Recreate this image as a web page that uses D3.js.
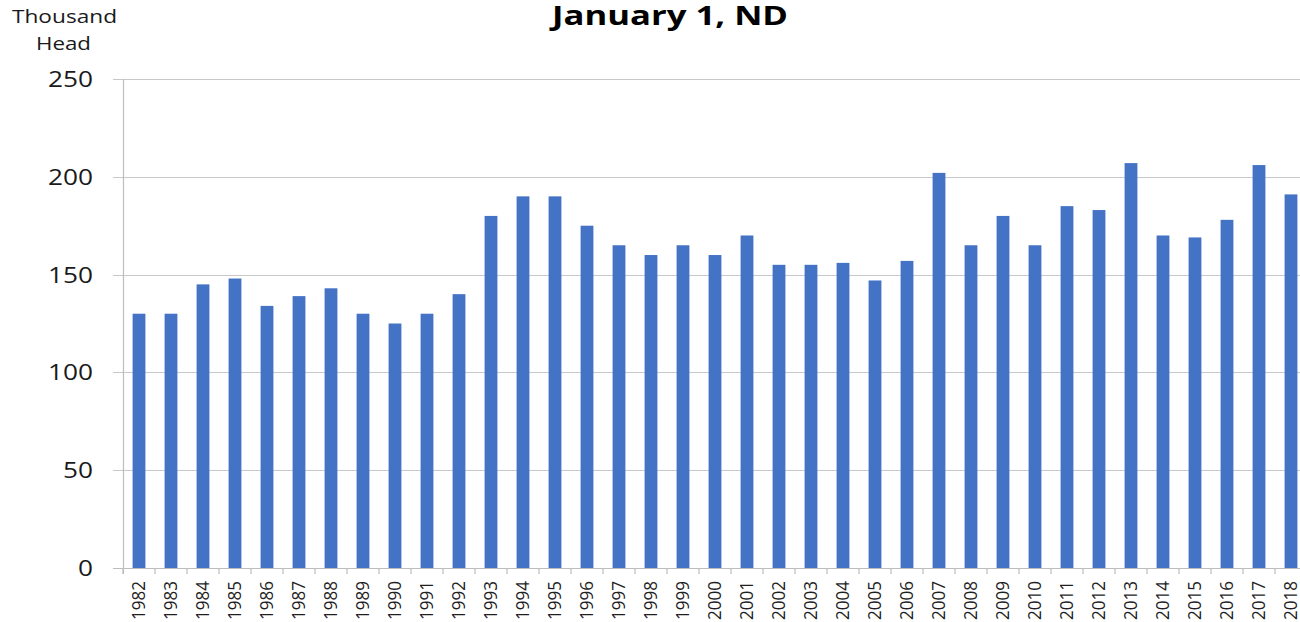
<!DOCTYPE html>
<html><head><meta charset="utf-8">
<script src="https://cdn.jsdelivr.net/npm/d3@7"></script>
<style>html,body{margin:0;padding:0;background:#fff;overflow:hidden}</style>
</head><body>
<script>
const years = ["1982","1983","1984","1985","1986","1987","1988","1989","1990","1991","1992","1993","1994","1995","1996","1997","1998","1999","2000","2001","2002","2003","2004","2005","2006","2007","2008","2009","2010","2011","2012","2013","2014","2015","2016","2017","2018"];
const values = [130,130,145,148,134,139,143,130,125,130,140,180,190,190,175,165,160,165,160,170,155,155,156,147,157,202,165,180,165,185,183,207,170,169,178,206,191];
const yTicks = [0,50,100,150,200,250];
const title = "January 1, ND";
const yLabel = ["Thousand","Head"];

const W = 1300, H = 622;
const svg = d3.select("body").append("svg").attr("width", W).attr("height", H);
const font = "'Open Sans', sans-serif";

const x = d3.scaleBand().domain(years).range([123, 123 + 37 * 32]).paddingInner(0.6).paddingOuter(0.3);
const y = d3.scaleLinear().domain([0, 250]).range([568, 79]);

// gridlines
svg.append("g").selectAll("line").data(yTicks.filter(d => d > 0)).join("line")
  .attr("x1", 113).attr("x2", W).attr("y1", d => Math.round(y(d)) + 0.5).attr("y2", d => Math.round(y(d)) + 0.5)
  .attr("stroke", "#c8c8c8").attr("stroke-width", 1.2);

// bars
svg.append("g").selectAll("rect").data(years).join("rect")
  .attr("x", d => x(d)).attr("width", x.bandwidth())
  .attr("y", (d, i) => y(values[i])).attr("height", (d, i) => y(0) - y(values[i]))
  .attr("fill", "#4472C4");

// x axis
const xa = svg.append("g").attr("transform", `translate(0,${y(0)})`);
xa.append("line").attr("x1", 113).attr("x2", W).attr("y1", 0.5).attr("y2", 0.5).attr("stroke", "#bdbdbd").attr("stroke-width", 1.2);
const bounds = years.map(d => x(d) - x.step() * x.paddingInner() / 2).concat([x(years[years.length-1]) + x.bandwidth() + x.step()*x.paddingInner()/2]);
xa.selectAll("line.tk").data(bounds).join("line").attr("class","tk")
  .attr("x1", d => d).attr("x2", d => d).attr("y1", 0).attr("y2", 6).attr("stroke", "#bdbdbd").attr("stroke-width", 1.2);
xa.selectAll("text").data(years).join("text")
  .attr("transform", d => `translate(${x(d) + x.bandwidth()/2 + 6},13) rotate(-90)`)
  .attr("text-anchor", "end").attr("font-family", font).attr("font-size", 17.5).attr("fill", "#1f1f1f")
  .attr("textLength", 39).attr("lengthAdjust", "spacingAndGlyphs")
  .text(d => d);

// y axis line
svg.append("line").attr("x1", 123.5).attr("x2", 123.5).attr("y1", 79).attr("y2", 574).attr("stroke", "#bdbdbd").attr("stroke-width", 1.2);
svg.append("g").selectAll("text").data(yTicks).join("text")
  .attr("x", 93).attr("y", d => y(d) + 8)
  .attr("text-anchor", "end").attr("font-family", font).attr("font-size", 22).attr("fill", "#1a1a1a")
  .attr("textLength", d => String(d).length * 15).attr("lengthAdjust", "spacingAndGlyphs")
  .text(d => d);

// title
svg.append("text").attr("x", 670).attr("y", 25).attr("text-anchor", "middle")
  .attr("font-family", font).attr("font-weight", "bold").attr("font-size", 27).attr("fill", "#000")
  .attr("textLength", 236).attr("lengthAdjust", "spacingAndGlyphs").text(title);

// y label
svg.append("text").attr("x", 64.5).attr("y", 23).attr("text-anchor", "middle")
  .attr("font-family", font).attr("font-size", 18).attr("fill", "#1a1a1a")
  .attr("textLength", 105).attr("lengthAdjust", "spacingAndGlyphs").text(yLabel[0]);
svg.append("text").attr("x", 63.5).attr("y", 50).attr("text-anchor", "middle")
  .attr("font-family", font).attr("font-size", 18).attr("fill", "#1a1a1a")
  .attr("textLength", 55).attr("lengthAdjust", "spacingAndGlyphs").text(yLabel[1]);
</script>
</body></html>
